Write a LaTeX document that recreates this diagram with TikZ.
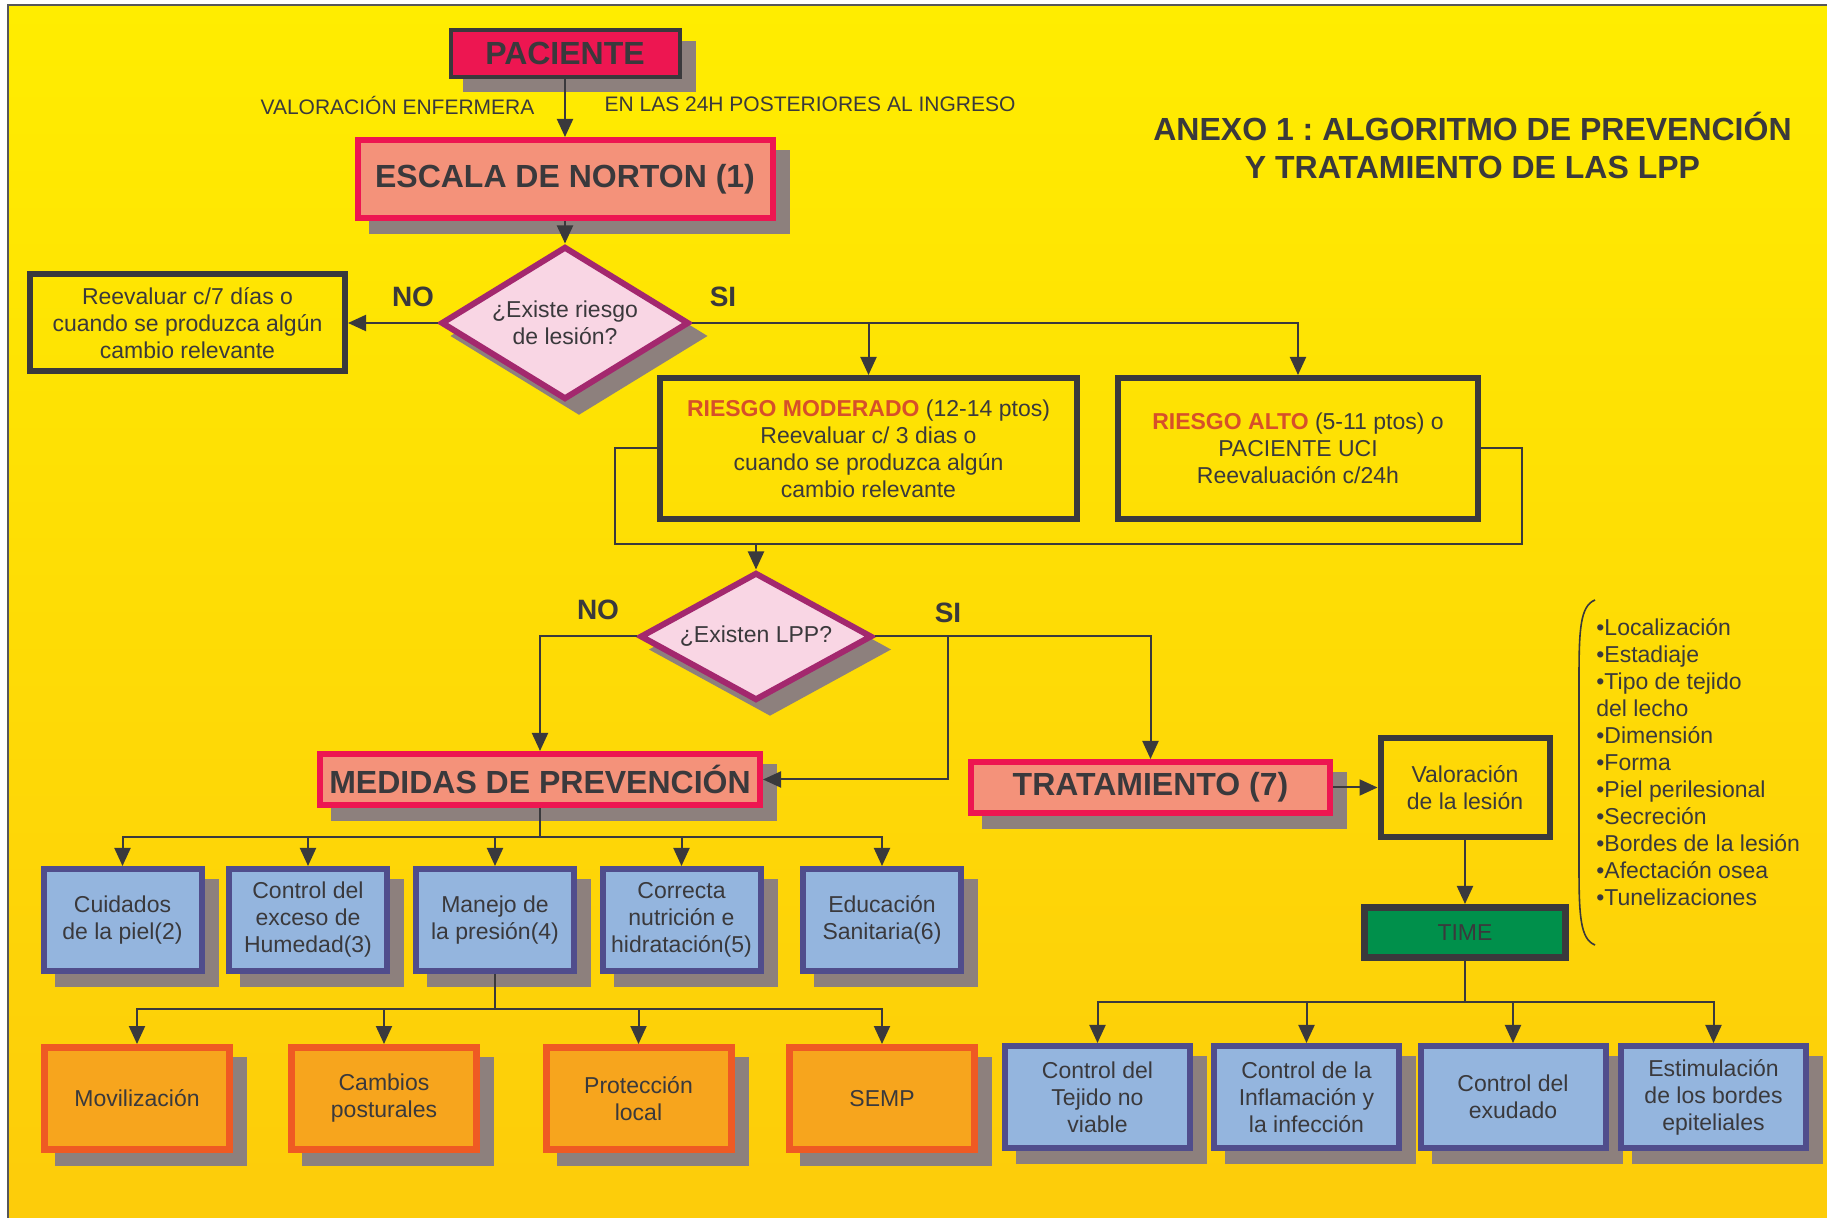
\documentclass[tikz,border=0pt]{standalone}
\usepackage{fontspec}
\setmainfont{Liberation Sans}
\usetikzlibrary{arrows.meta,positioning,shapes.geometric,shadows}
\definecolor{oscuro}{RGB}{58,57,60}
\definecolor{carmin}{RGB}{237,22,81}
\definecolor{salmon}{RGB}{244,146,122}
\definecolor{rosa}{RGB}{249,214,228}
\definecolor{morado}{RGB}{163,40,110}
\definecolor{gris}{RGB}{141,128,125}
\definecolor{celeste}{RGB}{148,181,222}
\definecolor{anil}{RGB}{80,77,140}
\definecolor{naranja}{RGB}{247,165,29}
\definecolor{teja}{RGB}{239,90,35}
\definecolor{verde}{RGB}{0,144,75}
\definecolor{alerta}{RGB}{214,80,42}
\definecolor{fondoA}{RGB}{255,237,0}
\definecolor{fondoB}{RGB}{253,204,10}
\newcommand{\fcuerpo}{\fontsize{11.5}{13.5}\selectfont\frenchspacing}
\newcommand{\ftitular}{\fontsize{16}{19}\selectfont\bfseries\frenchspacing}
\newcommand{\fetiqueta}{\fontsize{10.5}{12.5}\selectfont}
\newcommand{\nivel}[1]{{\bfseries\color{alerta}#1}}

\begin{document}
\begin{tikzpicture}[
   x=0.5pt, y=-0.5pt,
   every node/.style={text=oscuro, font=\fcuerpo, align=center},
   sombra/.style={drop shadow={shadow xshift=7pt, shadow yshift=-6.5pt,
      fill=gris, draw=gris, opacity=1}},
   inicio/.style={draw=oscuro, fill=carmin, line width=2pt, font=\ftitular,
      minimum width=114.5pt, minimum height=23.5pt, inner sep=1pt, sombra},
   titular/.style={draw=carmin, fill=salmon, line width=3pt, font=\ftitular,
      inner sep=1pt, sombra},
   pregunta/.style={draw=morado, fill=rosa, diamond, line width=3pt,
      inner sep=0pt, sombra},
   caja/.style={draw=oscuro, line width=3pt, inner sep=1pt},
   medida/.style={draw=anil, fill=celeste, line width=3pt, inner sep=1pt,
      minimum width=79pt, minimum height=51pt, sombra},
   cambio/.style={draw=teja, fill=naranja, line width=3.5pt, inner sep=1pt,
      minimum width=92.5pt, minimum height=51pt, sombra},
   etiqueta/.style={font=\fetiqueta, inner sep=1pt},
   rotulo/.style={font=\fontsize{14}{16}\selectfont\bfseries, inner sep=1pt},
   flecha/.style={-{Triangle[length=9pt, width=8pt]}, line width=1pt, draw=oscuro},
   linea/.style={line width=1pt, draw=oscuro}
]
\useasboundingbox (0,0) rectangle (1827,1218);
\shade[top color=fondoA, bottom color=fondoB] (8,5) rectangle (1827,1218);
\draw[oscuro!85, line width=1pt] (7.5,1218) -- (7.5,5) -- (1827,5);

% valoracion inicial
\node[inicio] (pac) at (565,53.5) {PACIENTE};
\node[etiqueta] (enfermera) at (397.5,106) {VALORACIÓN ENFERMERA};
\node[etiqueta] (ingreso) at (810,104) {EN LAS 24H POSTERIORES AL INGRESO};
\node[titular, minimum width=207.5pt, minimum height=39pt] (norton)
   at (565,179) {ESCALA DE NORTON (1)};
\node[font=\ftitular] (anexo) at (1472.5,145)
   {ANEXO 1 : ALGORITMO DE PREVENCIÓN\\Y TRATAMIENTO DE LAS LPP};

% riesgo
\node[pregunta, aspect=1.6, minimum width=124pt, minimum height=76.5pt] (riesgo)
   at (565,323) {¿Existe riesgo\\de lesión?};
\node[caja, minimum width=157.5pt, minimum height=48.5pt] (reev)
   at (187.5,323) {Reevaluar c/7 días o\\cuando se produzca algún\\cambio relevante};
\node[rotulo] (no1) at (413,297) {NO};
\node[rotulo] (si1) at (723,297) {SI};
\node[caja, minimum width=208.5pt, minimum height=70.5pt] (moderado)
   at (868.5,448.5) {\nivel{RIESGO MODERADO} (12-14 ptos)\\Reevaluar c/ 3 dias o\\
   cuando se produzca algún\\cambio relevante};
\node[caja, minimum width=180pt, minimum height=70.5pt] (alto)
   at (1298,448.5) {\nivel{RIESGO ALTO} (5-11 ptos) o\\PACIENTE UCI\\
   Reevaluación c/24h};

% lesiones
\node[pregunta, aspect=1.8, minimum width=116pt, minimum height=64pt] (lpp)
   at (756,636.5) {¿Existen LPP?};
\node[rotulo] (no2) at (598,610) {NO};
\node[rotulo] (si2) at (948,613) {SI};
\node[titular, minimum width=220pt, minimum height=25.5pt] (medidas)
   at (540,779.5) {MEDIDAS DE PREVENCIÓN};
\node[titular, minimum width=179.5pt, minimum height=25.5pt] (tratamiento)
   at (1150.5,787.5) {TRATAMIENTO (7)};
\node[caja, minimum width=84.5pt, minimum height=49.5pt] (valoracion)
   at (1465,787.5) {Valoración\\de la lesión};
\node[caja, fill=verde, line width=3.5pt, minimum width=100.5pt,
   minimum height=25pt] (time) at (1465,932.5) {TIME};
\node[align=left, anchor=west, inner sep=0pt] (aspectos) at (1596,762)
   {•Localización\\•Estadiaje\\•Tipo de tejido\\del lecho\\•Dimensión\\•Forma\\
   •Piel perilesional\\•Secreción\\•Bordes de la lesión\\•Afectación osea\\
   •Tunelizaciones};

% medidas de prevencion
\node[medida] (piel) at (122.5,920) {Cuidados\\de la piel(2)};
\node[medida] (humedad) at (308,920) {Control del\\exceso de\\Humedad(3)};
\node[medida] (presion) at (495,920) {Manejo de\\la presión(4)};
\node[medida] (nutricion) at (681.5,920) {Correcta\\nutrición e\\hidratación(5)};
\node[medida] (educacion) at (882,920) {Educación\\Sanitaria(6)};
\node[cambio] (movilizacion) at (137,1098.5) {Movilización};
\node[cambio] (cambios) at (384,1098.5) {Cambios\\posturales};
\node[cambio] (proteccion) at (638.5,1098.5) {Protección\\local};
\node[cambio] (semp) at (882,1098.5) {SEMP};

% TIME
\node[medida, minimum width=92.5pt] (tejido) at (1097.5,1097)
   {Control del\\Tejido no\\viable};
\node[medida, minimum width=92.5pt] (inflamacion) at (1306.5,1097)
   {Control de la\\Inflamación y\\la infección};
\node[medida, minimum width=92.5pt] (exudado) at (1513,1097)
   {Control del\\exudado};
\node[medida, minimum width=92.5pt] (bordes) at (1713.5,1097)
   {Estimulación\\de los bordes\\epiteliales};

\coordinate (junta) at (756,544);
\coordinate (desvio) at (948,636.5);
\coordinate (rama) at (540,837);
\coordinate (rama2) at (495,1009);
\coordinate (rama3) at (1465,1002);

\draw[flecha] (pac) -- (norton);
\draw[flecha] (norton) -- (riesgo);
\draw[flecha] (riesgo) -- (reev);
\draw[flecha] (riesgo.east) -| (moderado.north);
\draw[flecha] (riesgo.east) -| (alto.north);
\draw[linea] (moderado.west) -- ++(-42,0) |- (junta);
\draw[linea] (alto.east) -- ++(41,0) |- (junta);
\draw[flecha] (junta) -- (lpp);
\draw[flecha] (lpp.west) -| (medidas.north);
\draw[flecha] (lpp.east) -| (tratamiento.north);
\draw[flecha] (desvio) |- (medidas.east);
\draw[flecha] (tratamiento) -- (valoracion);
\draw[flecha] (valoracion) -- (time);
\draw[linea] (medidas) -- (rama);
\foreach \m in {piel,humedad,presion,nutricion,educacion}
   \draw[flecha] (rama) -| (\m.north);
\draw[linea] (presion) -- (rama2);
\foreach \c in {movilizacion,cambios,proteccion,semp}
   \draw[flecha] (rama2) -| (\c.north);
\draw[linea] (time) -- (rama3);
\foreach \t in {tejido,inflamacion,exudado,bordes}
   \draw[flecha] (rama3) -| (\t.north);
\draw[line width=0.8pt, oscuro] (1595,600) .. controls (1580,606) and (1579,630)
   .. (1579,680) -- (1579,865) .. controls (1579,915) and (1580,939) .. (1595,945);
\end{tikzpicture}
\end{document}
